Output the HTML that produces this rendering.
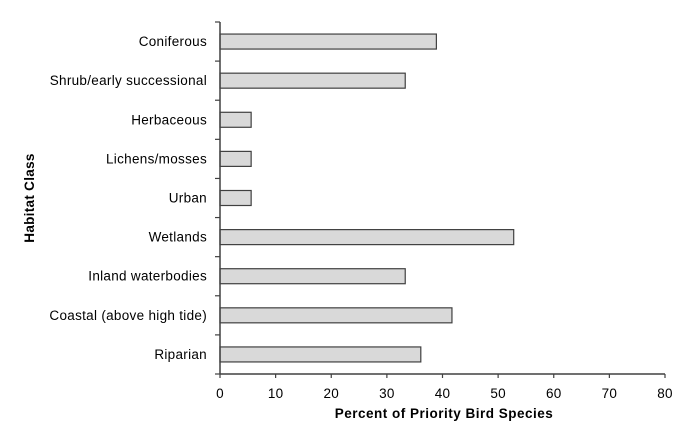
<!DOCTYPE html>
<html><head><meta charset="utf-8"><style>
body{margin:0;background:#fff;}
svg{display:block;font-family:"Liberation Sans",Arial,sans-serif;}
</style></head><body>
<svg id="chart" width="700" height="439" viewBox="0 0 700 439"></svg>
<script>
const categories=["Coniferous","Shrub/early successional","Herbaceous","Lichens/mosses","Urban","Wetlands","Inland waterbodies","Coastal (above high tide)","Riparian"];
const values=[38.9,33.3,5.6,5.6,5.6,52.8,33.3,41.7,36.1];
const xTicks=[0,10,20,30,40,50,60,70,80];
const NS="http://www.w3.org/2000/svg";
const svg=document.getElementById('chart');
const x0=220,x1=665,yTop=22,yBot=374,xMax=80;
const xs=v=>x0+(v/xMax)*(x1-x0);
const band=(yBot-yTop)/categories.length;
function mk(t,a){const e=document.createElementNS(NS,t);for(const k in a)e.setAttribute(k,a[k]);svg.appendChild(e);return e;}
categories.forEach((c,i)=>{
  const cy=yTop+band*(i+0.5);
  const r=mk('rect',{x:x0,y:cy-7.5,width:xs(values[i])-x0,height:15,fill:'#d9d9d9',stroke:'#404040','stroke-width':1.2});
  
  
  const t=mk('text',{x:207,y:cy+4.5,'text-anchor':'end','font-size':13.5,'letter-spacing':0.3,fill:'#000'});
  t.textContent=c;
  
  
});
for(let i=0;i<=categories.length;i++){
  const y=yTop+band*i;
  mk('line',{x1:215,x2:x0,y1:y,y2:y,stroke:'#404040','stroke-width':1.2});
}
const ya=mk('line',{x1:x0,x2:x0,y1:yTop,y2:yBot,stroke:'#404040','stroke-width':1.5});


const xa=mk('line',{x1:x0,x2:x1,y1:yBot,y2:yBot,stroke:'#404040','stroke-width':1.5});


xTicks.forEach(v=>{
  mk('line',{x1:xs(v),x2:xs(v),y1:yBot,y2:yBot+4,stroke:'#404040','stroke-width':1.2});
  const t=mk('text',{x:xs(v),y:398,'text-anchor':'middle','font-size':13.5,'letter-spacing':0.3,fill:'#000'});
  t.textContent=v;
  
  
});
const xt=mk('text',{x:444,y:418,'text-anchor':'middle','font-size':13.5,'letter-spacing':0.5,'font-weight':'bold',fill:'#000'});
xt.textContent="Percent of Priority Bird Species";


const yt=mk('text',{x:0,y:0,'text-anchor':'middle','font-size':13.5,'letter-spacing':0.3,'font-weight':'bold',fill:'#000',transform:'translate(34,198) rotate(-90)'});
yt.textContent="Habitat Class";


</script>
</body></html>
